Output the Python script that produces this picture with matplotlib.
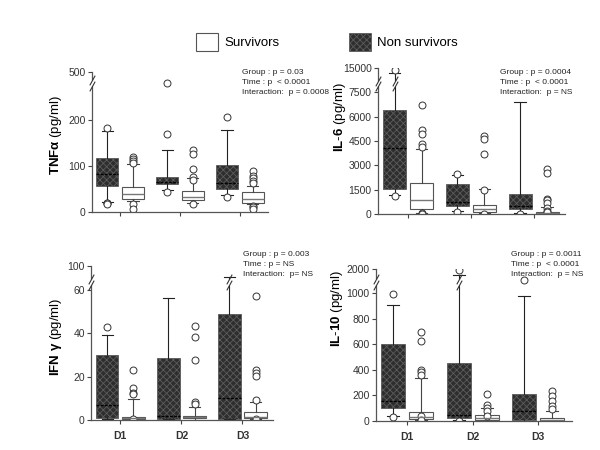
import numpy as np
import matplotlib
matplotlib.use('Agg')
import matplotlib.pyplot as plt
from matplotlib.patches import Patch
from matplotlib.path import Path
from matplotlib import transforms

plt.rcParams['font.family'] = ['Liberation Sans', 'DejaVu Sans']
plt.rcParams['mathtext.fontset'] = 'custom'
plt.rcParams['mathtext.bf'] = 'Liberation Sans:bold'
plt.rcParams['mathtext.rm'] = 'Liberation Sans'
plt.rcParams['hatch.linewidth'] = 0.6

days = ['D1', 'D2', 'D3']

# box stats per day: (q1, median, q3, whisker low, whisker high)
tnf_non = [(56, 82, 117, 22, 175), (61, 66, 77, 48, 135), (51, 62, 103, 37, 177)]
tnf_non_out = [[182, 20, 19, 18], [370, 170, 44], [206, 32]]
tnf_surv = [(28, 38, 54, 24, 104), (25, 33, 46, 19, 73), (19, 28, 43, 17, 57)]
tnf_surv_out = [[120, 116, 110, 106, 17, 6], [135, 127, 93, 77, 70, 17],
                [89, 79, 73, 68, 64, 14, 10, 6]]

il6_non = [(1550, 4050, 6400, 1170, 13000), (510, 760, 1850, 200, 2400), (330, 500, 1230, 50, 6900)]
il6_non_out = [[14200, 1100], [2450, 100], [20]]
il6_surv = [(290, 845, 1900, 80, 4000), (140, 310, 555, 40, 1550), (20, 60, 140, 5, 450)]
il6_surv_out = [[6700, 5200, 4900, 4300, 4150, 60, 30], [4800, 4600, 3700, 1500, 20],
                [2800, 2500, 950, 850, 650, 400, 200, 100]]

ifn_non = [(1, 6.8, 29.8, 0.5, 39.5), (0.5, 2, 28.5, 0.3, 56.5), (0.5, 10, 49, 0.3, 78)]
ifn_non_out = [[43], [], []]
ifn_surv = [(0.5, 1, 1.5, 0.2, 9.8), (0.9, 1.2, 1.8, 0.2, 6.2), (0.8, 1.5, 3.9, 0.4, 8.5)]
ifn_surv_out = [[23, 14.6, 12.3, 11.8, 0.5], [43.6, 38.5, 27.7, 8.5, 7.6],
                [57.4, 23, 21.5, 20.3, 9.2, 0.5]]

il10_non = [(100, 155, 600, 40, 905), (20, 50, 450, 5, 1700), (8, 78, 208, 3, 980)]
il10_non_out = [[990, 30], [1950, 0], [1400]]
il10_surv = [(13, 30, 72, 5, 338), (5, 20, 50, 2, 100), (3, 10, 26, 1, 75)]
il10_surv_out = [[692, 625, 402, 380, 363, 40, 10], [208, 122, 104, 78, 40],
                 [235, 195, 160, 120, 90]]

panels = [
    dict(label=r'$\mathbf{TNF}$$\mathbf{\alpha}$ (pg/ml)',
         non=tnf_non, non_out=tnf_non_out, surv=tnf_surv, surv_out=tnf_surv_out,
         ticks=[0, 100, 200, 500], brk=260, top=500, squeeze=44, marks=(0.3, 0.6),
         rect=[92, 72, 268, 212], xlim=(0.53, 3.47), lab=(-0.16, 0.55),
         text=['Group : p = 0.03', 'Time : p  < 0.0001', 'Interaction:  p = 0.0008'],
         text_xy=(242, 73), whisk_brk=[], xlabels=False),
    dict(label=r'$\mathbf{IL}$-$\mathbf{6}$ (pg/ml)',
         non=il6_non, non_out=il6_non_out, surv=il6_surv, surv_out=il6_surv_out,
         ticks=[0, 1500, 3000, 4500, 6000, 7500, 15000], brk=7800, top=15000, squeeze=1191,
         marks=(0.07, 0.35),
         rect=[378, 68, 565, 214], xlim=(0.52, 3.5), lab=(-0.16, 0.66),
         text=['Group : p = 0.0004', 'Time : p  < 0.0001', 'Interaction:  p = NS'],
         text_xy=(500, 73), whisk_brk=[0], xlabels=False),
    dict(label=r'$\mathbf{IFN}$ $\mathbf{\gamma}$ (pg/ml)',
         non=ifn_non, non_out=ifn_non_out, surv=ifn_surv, surv_out=ifn_surv_out,
         ticks=[0, 20, 40, 60, 100], brk=62, top=100, squeeze=9.15, marks=(0.02, 0.32),
         rect=[91, 266, 273, 420], xlim=(0.52, 3.5), lab=(-0.15, 0.54),
         text=['Group : p = 0.003', 'Time : p = NS', 'Interaction:  p= NS'],
         text_xy=(243, 255), whisk_brk=[2], xlabels=True),
    dict(label=r'$\mathbf{IL}$-$\mathbf{10}$ (pg/ml)',
         non=il10_non, non_out=il10_non_out, surv=il10_surv, surv_out=il10_surv_out,
         ticks=[0, 200, 400, 600, 800, 1000, 2000], brk=1050, top=2000, squeeze=138,
         marks=(0.1, 0.42),
         rect=[376, 269, 572, 421], xlim=(0.52, 3.52), lab=(-0.16, 0.74),
         text=['Group : p = 0.0011', 'Time : p  < 0.0001', 'Interaction:  p = NS'],
         text_xy=(511, 254), whisk_brk=[1], xlabels=True),
]

W, H = 600, 450
DARK = '#2e2e2e'
HATCH = '#5c5c5c'
slash = Path([(-0.55, -1.0), (0.55, 1.0)], [Path.MOVETO, Path.LINETO])


def make_stats(boxes, outs):
    stats = []
    for (q1, med, q3, lo, hi), fl in zip(boxes, outs):
        stats.append(dict(q1=q1, med=med, q3=q3, whislo=lo, whishi=hi, fliers=fl))
    return stats


def break_marks(ax, x, trans, y_lo, y_hi):
    # white gap over the line, then two slashes
    ax.plot([x, x], [y_lo, y_hi], transform=trans, color='white', lw=2.5,
            solid_capstyle='butt', clip_on=False, zorder=4)
    ax.plot([x, x], [y_lo, y_hi], transform=trans, linestyle='none', marker=slash,
            markersize=7, markeredgewidth=0.8, color='#333333', clip_on=False, zorder=5)


fig = plt.figure(figsize=(6, 4.5), dpi=100)

for p in panels:
    x0, y0, x1, y1 = p['rect']
    ax = fig.add_axes([x0 / W, 1 - y1 / H, (x1 - x0) / W, (y1 - y0) / H])
    brk, top, sq = p['brk'], p['top'], p['squeeze']
    r = sq / (top - brk)

    def fwd(v, brk=brk, r=r):
        v = np.asarray(v, float)
        return np.where(v <= brk, v, brk + (v - brk) * r)

    def inv(u, brk=brk, r=r):
        u = np.asarray(u, float)
        return np.where(u <= brk, u, brk + (u - brk) / r)

    ax.set_yscale('function', functions=(fwd, inv))
    ax.set_ylim(0, top)
    ax.set_xlim(*p['xlim'])

    pos = np.arange(1, 4)
    flier = dict(marker='o', markerfacecolor='white', markeredgecolor='#333333',
                 markersize=5, markeredgewidth=0.7)
    ax.bxp(make_stats(p['non'], p['non_out']), positions=pos - 0.215, widths=0.37,
           patch_artist=True, flierprops=flier,
           boxprops=dict(facecolor=DARK, edgecolor=HATCH, hatch='xxxxx', linewidth=0.6),
           medianprops=dict(color='black', linestyle=(0, (2, 1)), linewidth=1),
           whiskerprops=dict(color='#222222', linewidth=0.8),
           capprops=dict(color='#222222', linewidth=0.8))
    ax.bxp(make_stats(p['surv'], p['surv_out']), positions=pos + 0.215, widths=0.37,
           patch_artist=True, flierprops=flier,
           boxprops=dict(facecolor='white', edgecolor='#555555', linewidth=0.8),
           medianprops=dict(color='#777777', linewidth=1),
           whiskerprops=dict(color='#444444', linewidth=0.8),
           capprops=dict(color='#444444', linewidth=0.8))

    ax.set_xticks(pos)
    if p['xlabels']:
        ax.set_xticklabels(days, fontsize=10, fontweight='bold')
    else:
        ax.set_xticklabels([])
    ax.set_yticks(p['ticks'])
    ax.set_yticklabels([str(t) for t in p['ticks']])
    ax.tick_params(axis='both', length=3, width=0.8, color='#444444',
                   labelcolor='#333333', labelsize=7.5, pad=1.5)
    ax.tick_params(axis='x', pad=5)
    for s in ['top', 'right']:
        ax.spines[s].set_visible(False)
    for s in ['left', 'bottom']:
        ax.spines[s].set_color('#555555')
        ax.spines[s].set_linewidth(0.9)

    ax.set_ylabel(p['label'], fontsize=9.5)
    ax.yaxis.set_label_coords(*p['lab'])

    # axis break and whisker breaks
    y_lo = float(inv(brk + p['marks'][0] * sq))
    y_hi = float(inv(brk + p['marks'][1] * sq))
    break_marks(ax, 0, transforms.blended_transform_factory(ax.transAxes, ax.transData), y_lo, y_hi)
    for i in p['whisk_brk']:
        break_marks(ax, pos[i] - 0.215, ax.transData, y_lo, y_hi)

    tx, ty = p['text_xy']
    for k, line in enumerate(p['text']):
        fig.text(tx / W, 1 - (ty + 10 * k) / H, line, fontsize=6, va='center',
                 ha='left', color='#222222')

handles = [Patch(facecolor='white', edgecolor='#555555', linewidth=0.8),
           Patch(facecolor=DARK, edgecolor=HATCH, hatch='xxxxx', linewidth=0.6)]
fig.legend(handles, ['Survivors', 'Non survivors'], loc='center',
           bbox_to_anchor=(327 / W, 1 - 42 / H), ncol=2, frameon=False, fontsize=9.5,
           handlelength=1.65, handleheight=1.65, handletextpad=0.45, columnspacing=5.3)

fig.savefig('out.png', dpi=100)
